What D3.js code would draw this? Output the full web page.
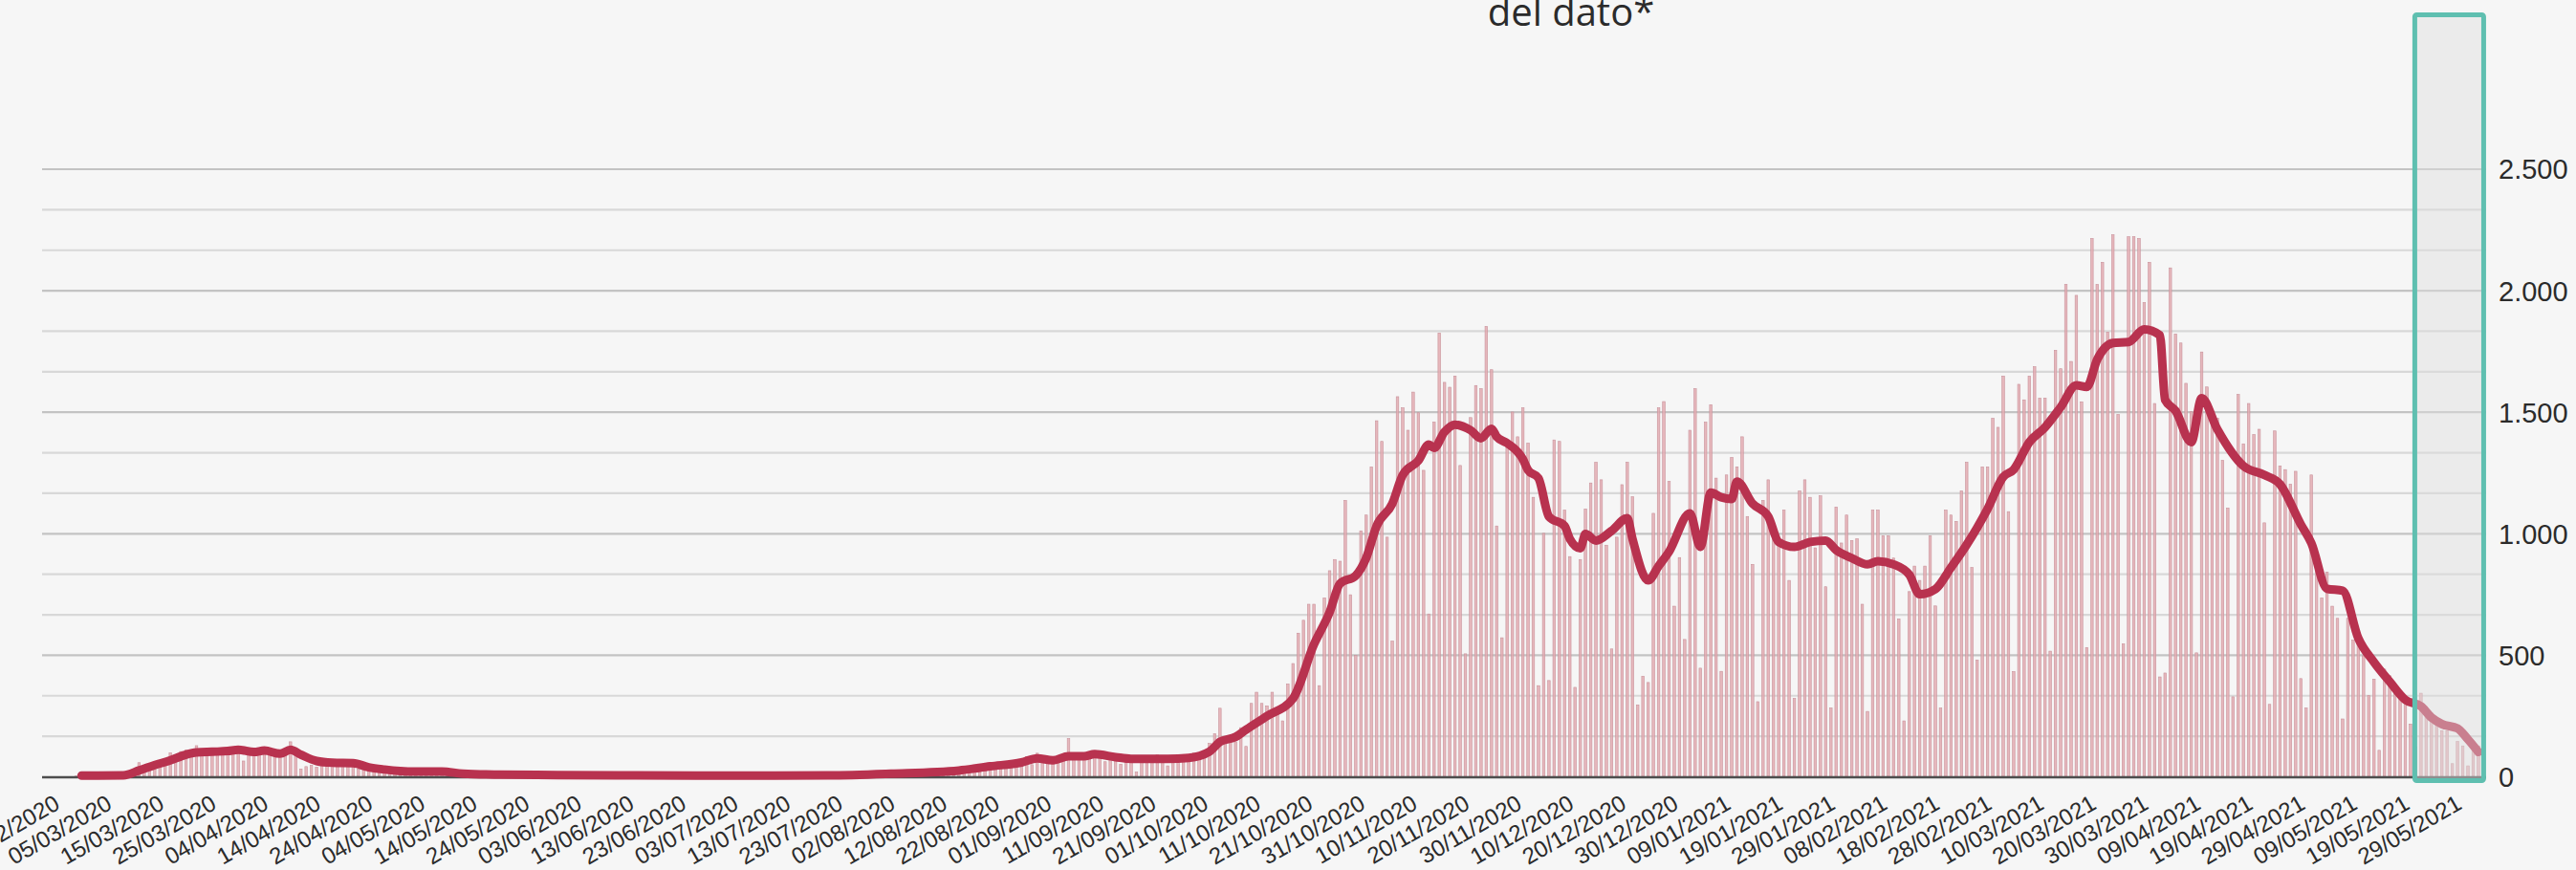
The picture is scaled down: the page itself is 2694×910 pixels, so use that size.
<!DOCTYPE html>
<html>
<head>
<meta charset="utf-8">
<script src="https://cdn.jsdelivr.net/npm/d3@7"></script>
<style>
  html, body { margin: 0; padding: 0; background: #f6f6f6; }
  svg { display: block; }
</style>
</head>
<body>
<svg id="chart" width="2694" height="910"></svg>
<script>
// ---------------- DATA ----------------
const startDate = "24/02/2020";   // first day of the daily series
// daily new cases, one value per day starting at startDate (24/02/2020 -> 01/06/2021)
const cases = [
  0,0,0,1,0,0,
  1,1,2,1,3,2,4,5,10,
  56,20,25,45,60,70,96,85,102,109,
  105,126,89,110,98,112,105,100,118,93,
  63,104,112,98,120,95,88,96,104,142,
  92,30,40,45,38,60,58,62,55,58,
  60,52,30,28,22,18,30,25,22,28,
  20,18,12,24,20,22,18,25,16,8,
  14,12,10,12,9,5,8,7,6,4,
  6,4,5,3,8,5,4,6,3,5,4,2,7,5,3,4,6,2,5,3,4,2,6,3,1,4,2,5,3,2,4,1,3,2,5,4,
  2,3,1,4,2,3,5,1,2,4,3,2,1,5,3,2,4,3,6,2,3,5,4,2,6,3,5,4,7,3,
  6,8,5,9,7,4,10,12,9,11,14,16,12,18,20,14,22,25,20,28,
  30,26,38,35,40,45,33,52,55,48,60,62,50,68,80,48,95,75,60,78,
  65,80,155,85,78,90,88,95,82,60,75,80,50,72,78,17,80,85,68,88,70,43,72,56,70,70,96,80,90,135,
  175,280,148,148,142,200,123,300,346,300,
  290,346,254,228,380,464,589,642,708,708,
  373,734,846,892,885,1135,747,497,1010,1075,
  1273,1463,1378,984,556,1562,1516,1424,1581,1496,
  1259,668,1457,1824,1621,1601,1647,1279,504,1476,
  1608,1595,1851,1673,1030,570,1351,1499,1397,1516,
  1371,1148,373,1000,394,1384,1378,1095,904,366,
  892,1100,1207,1292,1220,951,524,984,1200,1292,
  1150,294,412,386,1082,1516,1542,1213,700,900,
  563,1424,1595,445,1457,1529,1227,432,1240,1312,
  1273,1397,1069,872,307,1135,1220,977,964,1095,
  806,320,1174,1220,1148,940,1154,780,281,1108,
  960,1075,970,977,708,267,1095,1095,990,990,
  898,648,228,760,865,806,865,990,701,281,
  1095,1075,1049,1174,1292,859,478,1273,1273,1473,
  1436,1647,1089,431,1613,1549,1647,1685,1556,1556,
  515,1753,1677,2024,1707,1979,1541,530,2213,2024,
  2115,1828,2228,1489,545,2220,2220,2213,1949,2115,
  1534,409,425,2092,1820,1783,1617,1500,508,1746,
  1602,1496,1473,1300,1104,327,1571,1368,1534,1406,
  1428,1043,296,1421,1277,1262,1202,1255,402,281,
  1240,855,734,840,700,650,236,650,560,560,
  496,333,400,107,441,414,378,342,297,215,
  120,342,287,260,233,188,188,52,143,125,
  43,107,125
];

// 7-day average line: day offset from startDate, value
const avgDays = [4,12,15,18,21,24,26,29,32,34,37,39,42,44,46,49,52,56,59,62,65,68,73,77,84,95,110,130,147,159,
  172,178,184,187,190,193,196,198,202,205,212,216,220,222,225,227,231,236,240,243,245,248,250,252,255,257,260,262,263,265,
  267,270,272,274,275,277,280,281,283,285,288,289,291,292,294,297,300,301,304,306,308,312,314,316,318,320,321,324,327,329,
  332,335,338,340,343,346,348,351,354,356,359,362,365,367,369,372,374,377,380,383,386,388,390,393,396,399,402,403,405,408,
  410,413,418,422,425,429,431,434,437,440,443,446,449,452,454,456,459,461,463];
const avgValues = [3,4,24,46,66,89,98,101,104,109,100,106,93,109,89,63,56,54,37,28,22,20,20,11,7,5,4,3,4,11,
  24,41,57,74,66,83,83,91,79,72,72,76,102,142,162,192,248,320,543,675,793,826,898,1030,1122,1240,1299,1365,1351,1417,
  1447,1424,1391,1430,1397,1371,1305,1260,1227,1069,1030,977,938,997,970,1010,1062,977,806,865,924,1082,944,1167,1148,1141,1213,1122,1069,964,
  944,964,970,931,898,872,885,872,830,749,770,859,953,1023,1100,1232,1262,1375,1436,1519,1609,1602,1715,1783,1787,1839,1815,1549,1504,1375,
  1556,1428,1277,1240,1202,1036,960,772,764,568,470,390,315,288,242,215,197,152,100];

// x-axis tick labels (every 10 days)
const tickLabels = ["24/02/2020","05/03/2020","15/03/2020","25/03/2020","04/04/2020","14/04/2020","24/04/2020",
  "04/05/2020","14/05/2020","24/05/2020","03/06/2020","13/06/2020","23/06/2020","03/07/2020","13/07/2020",
  "23/07/2020","02/08/2020","12/08/2020","22/08/2020","01/09/2020","11/09/2020","21/09/2020","01/10/2020",
  "11/10/2020","21/10/2020","31/10/2020","10/11/2020","20/11/2020","30/11/2020","10/12/2020","20/12/2020",
  "30/12/2020","09/01/2021","19/01/2021","29/01/2021","08/02/2021","18/02/2021","28/02/2021","10/03/2021",
  "20/03/2021","30/03/2021","09/04/2021","19/04/2021","29/04/2021","09/05/2021","19/05/2021","29/05/2021"];
// y-axis tick labels
const yTicks = [0, 500, 1000, 1500, 2000, 2500];
const yMax = 2500;
const gridDivisions = 15;          // 3 grid lines per 500
// highlighted (not yet consolidated) period
const highlightFrom = "20/05/2021";
const titleText = "del dato*";

// ---------------- CHART ----------------
const parse = d3.utcParse("%d/%m/%Y");
const t0 = parse(startDate);
const dates = cases.map((v, i) => d3.utcDay.offset(t0, i));
const series = cases.map((v, i) => ({date: dates[i], value: v}));
const avgSeries = avgDays.map((d, i) => ({date: d3.utcDay.offset(t0, d), value: avgValues[i]}));

const svg = d3.select("#chart");
const W = 2694, H = 910;
const plotLeft = 44, plotRight = 2600;
const x0 = 63.5, step = 5.461;

const x = d3.scaleUtc()
  .domain([dates[0], dates[dates.length - 1]])
  .range([x0, x0 + step * (dates.length - 1)]);
const y = d3.scaleLinear().domain([0, yMax]).range([812, 176.5]);

svg.append("rect").attr("width", W).attr("height", H).attr("fill", "#f6f6f6");

// grid lines (minor + major)
const gridVals = d3.range(1, gridDivisions + 1).map(i => i * yMax / gridDivisions);
const gridAxis = d3.axisRight(y).tickValues(gridVals).tickSize(-(plotRight - plotLeft)).tickFormat("");
const gG = svg.append("g").attr("transform", `translate(${plotRight},0)`).call(gridAxis);
gG.select(".domain").remove();
gG.selectAll(".tick line")
  .attr("stroke", d => (Math.round(d) % 500 === 0) ? "#c3c3c3" : "#d8d8d8")
  .attr("stroke-width", 2.2);

// bars
const bw = 2.6;
svg.append("g").selectAll("rect").data(series).join("rect")
  .attr("x", d => x(d.date) - bw / 2)
  .attr("y", d => y(d.value))
  .attr("width", bw)
  .attr("height", d => y(0) - y(d.value))
  .attr("fill", "#e3abb2")
  .attr("fill-opacity", 0.85)
  .attr("stroke", "#c8919a")
  .attr("stroke-width", 0.6);

// baseline
svg.append("line")
  .attr("x1", plotLeft).attr("x2", plotRight)
  .attr("y1", y(0) + 1).attr("y2", y(0) + 1)
  .attr("stroke", "#4d4d4d").attr("stroke-width", 2.5);

// average line
const line = d3.line().x(d => x(d.date)).y(d => y(d.value)).curve(d3.curveMonotoneX);
svg.append("path").datum(avgSeries)
  .attr("d", line)
  .attr("fill", "none")
  .attr("stroke", "#b8324f")
  .attr("stroke-width", 9)
  .attr("stroke-linejoin", "round")
  .attr("stroke-linecap", "round");

// highlight rectangle
const hFrom = parse(highlightFrom);
const hx1 = x(hFrom) - 1, hx2 = x(dates[dates.length - 1]) + 5.5;
svg.append("rect")
  .attr("x", hx1).attr("y", 15.5)
  .attr("width", hx2 - hx1).attr("height", 816.5 - 15.5)
  .attr("rx", 2)
  .attr("fill", "rgba(222,222,222,0.45)")
  .attr("stroke", "#5fbfb0")
  .attr("stroke-width", 5);

// y axis (right)
const itLocale = d3.formatLocale({decimal: ",", thousands: ".", grouping: [3], currency: ["€", ""]});
const fmt = itLocale.format(",.0f");
const yAxis = d3.axisRight(y).tickValues(yTicks).tickFormat(fmt).tickSize(0).tickPadding(0);
const yG = svg.append("g").attr("transform", "translate(2613,0)").call(yAxis);
yG.select(".domain").remove();
yG.selectAll("text")
  .attr("x", 0).attr("dy", "0.36em")
  .style("font-family", "'Liberation Sans', Arial, sans-serif")
  .style("font-size", "29px")
  .attr("fill", "#2b2b2b");

// x axis labels (rotated)
const tickDates = tickLabels.map(parse);
const xAxis = d3.axisBottom(x).tickValues(tickDates).tickFormat(d3.utcFormat("%d/%m/%Y")).tickSize(0).tickPadding(0);
const xG = svg.append("g").attr("transform", "translate(0,845)").call(xAxis);
xG.select(".domain").remove();
xG.selectAll("text")
  .attr("y", 0).attr("dy", 0)
  .attr("transform", "rotate(-30)")
  .style("text-anchor", "end")
  .style("font-family", "'Liberation Sans', Arial, sans-serif")
  .style("font-size", "24px")
  .attr("fill", "#2b2b2b");

// title (partially cut off at the top, as in the original)
svg.append("text")
  .attr("x", 1643).attr("y", 27)
  .attr("text-anchor", "middle")
  .style("font-family", "'Open Sans', sans-serif")
  .style("font-size", "40px")
  .attr("fill", "#2b2b2b")
  .text(titleText);
</script>
</body>
</html>
